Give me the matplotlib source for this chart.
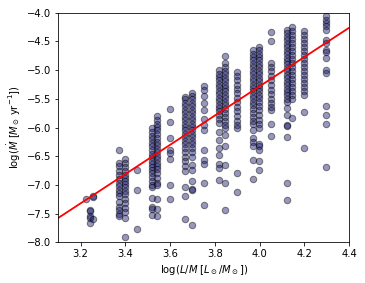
import matplotlib

matplotlib.use("Agg")
import matplotlib.pyplot as plt
import numpy as np

# log(L/M) grid columns and the log(Mdot) values read in each column
col_x = [3.225, 3.24, 3.255, 3.37, 3.40, 3.45, 3.52, 3.543, 3.60, 3.667, 3.696,
         3.751, 3.817, 3.846, 3.90, 3.97, 3.995, 4.049, 4.12, 4.146, 4.198, 4.297]

col_y = [
    [-7.25],
    [-7.43, -7.46, -7.54, -7.58, -7.66],
    [-7.20, -7.21, -7.60],
    [-6.40, -6.61, -6.67, -6.76, -6.83, -6.90, -6.97, -7.02, -7.09, -7.14,
     -7.20, -7.29, -7.38, -7.44, -7.50, -7.55],
    [-6.54, -6.62, -6.68, -6.75, -6.82, -6.88, -6.93, -6.99, -7.04, -7.10,
     -7.16, -7.24, -7.32, -7.41, -7.48, -7.58, -7.91],
    [-6.74, -7.08, -7.76],
    [-6.00, -6.07, -6.14, -6.20, -6.27, -6.33, -6.40, -6.46, -6.52, -6.58,
     -6.63, -6.68, -6.74, -6.80, -6.87, -6.94, -7.00, -7.03, -7.23, -7.38,
     -7.42, -7.52],
    [-5.80, -5.86, -5.93, -5.99, -6.05, -6.12, -6.19, -6.25, -6.31, -6.37,
     -6.43, -6.49, -6.55, -6.61, -6.67, -6.73, -6.80, -6.88, -6.96, -7.00,
     -7.25, -7.42, -7.54],
    [-5.68, -5.90, -6.19, -6.39, -6.45, -6.55, -7.00, -7.25],
    [-5.46, -5.51, -5.57, -5.63, -5.69, -5.75, -5.81, -5.87, -5.93, -5.99,
     -6.05, -6.11, -6.17, -6.23, -6.29, -6.36, -6.43, -6.51, -6.59, -6.67,
     -6.75, -7.04, -7.20, -7.60],
    [-5.39, -5.45, -5.51, -5.57, -5.63, -5.69, -5.75, -5.81, -5.87, -5.93,
     -5.99, -6.05, -6.11, -6.17, -6.23, -6.29, -6.35, -6.42, -6.51, -6.65,
     -6.74, -6.94, -7.07, -7.09, -7.70],
    [-5.27, -5.34, -5.45, -5.57, -5.70, -5.85, -5.95, -6.04, -6.39, -6.57,
     -6.64, -6.97, -7.35],
    [-5.00, -5.06, -5.12, -5.18, -5.24, -5.30, -5.36, -5.42, -5.48, -5.54,
     -5.60, -5.66, -5.72, -5.78, -5.85, -5.92, -6.07, -6.22, -6.36, -6.47,
     -6.64, -6.71, -6.91],
    [-4.75, -4.88, -4.94, -5.01, -5.07, -5.13, -5.19, -5.25, -5.31, -5.37,
     -5.43, -5.49, -5.55, -5.61, -5.67, -5.74, -5.81, -5.88, -5.95, -6.01,
     -6.13, -6.33, -6.65, -6.97, -7.43],
    [-5.03, -5.10, -5.17, -5.25, -5.33, -5.40, -5.48, -5.56, -5.64, -5.72,
     -5.80, -5.88, -5.95, -6.01, -6.80, -7.12],
    [-4.65, -4.71, -4.77, -4.83, -4.89, -4.95, -5.01, -5.07, -5.13, -5.19,
     -5.25, -5.31, -5.37, -5.43, -5.49, -5.55, -5.61, -5.67, -5.74, -5.81,
     -5.88, -5.94, -6.04, -6.19, -6.25, -6.33, -6.57, -6.90],
    [-4.59, -4.65, -4.71, -4.77, -4.83, -4.89, -4.95, -5.01, -5.07, -5.13,
     -5.19, -5.25, -5.31, -5.37, -5.43, -5.49, -5.56, -5.63, -5.70, -5.78,
     -5.86, -5.94, -6.01, -6.28, -6.32, -6.39, -6.58, -6.74],
    [-4.34, -4.49, -4.88, -4.95, -5.02, -5.10, -5.18, -5.26, -5.34, -5.42,
     -5.50, -5.58, -5.65, -5.70, -5.94, -6.14],
    [-4.30, -4.36, -4.42, -4.48, -4.54, -4.60, -4.66, -4.72, -4.78, -4.84,
     -4.90, -4.96, -5.02, -5.08, -5.14, -5.20, -5.26, -5.32, -5.38, -5.44,
     -5.50, -5.55, -5.66, -5.78, -5.95, -5.98, -6.17, -6.97, -7.26],
    [-4.25, -4.32, -4.39, -4.46, -4.53, -4.60, -4.67, -4.74, -4.81, -4.88,
     -4.95, -5.02, -5.09, -5.16, -5.23, -5.30, -5.37, -5.44, -5.51, -5.83],
    [-4.31, -4.38, -4.45, -4.52, -4.59, -4.66, -4.73, -4.80, -4.87, -4.94,
     -5.01, -5.08, -5.15, -5.22, -5.29, -5.36, -5.44, -5.73, -6.36],
    [-4.06, -4.12, -4.18, -4.23, -4.30, -4.47, -4.53, -4.64, -4.69, -4.79,
     -4.99, -5.05, -5.63, -5.79, -5.94, -6.69],
]

# linear fit shown in red
fit_slope = 2.55
fit_intercept = -15.48

x_pts = np.concatenate([[x] * len(ys) for x, ys in zip(col_x, col_y)])
y_pts = np.concatenate(col_y)

fig = plt.figure(figsize=(365 / 72, 283 / 72), dpi=72)
ax = fig.add_axes([0.1597, 0.1438, 0.797, 0.811])

ax.scatter(x_pts, y_pts, c="midnightblue", edgecolor="k", alpha=0.45, s=42)

xx = np.array([3.1, 4.4])
ax.plot(xx, fit_slope * xx + fit_intercept, color="red", lw=1.8)

ax.set_xlim(3.1, 4.4)
ax.set_ylim(-8.0, -4.0)
ax.set_xlabel(r"$\log(L/M\ [L_\odot/M_\odot])$")
ax.set_ylabel(r"$\log(\dot{M}\ [M_\odot\,\mathrm{yr}^{-1}])$")

fig.savefig("out.png", dpi=72)
